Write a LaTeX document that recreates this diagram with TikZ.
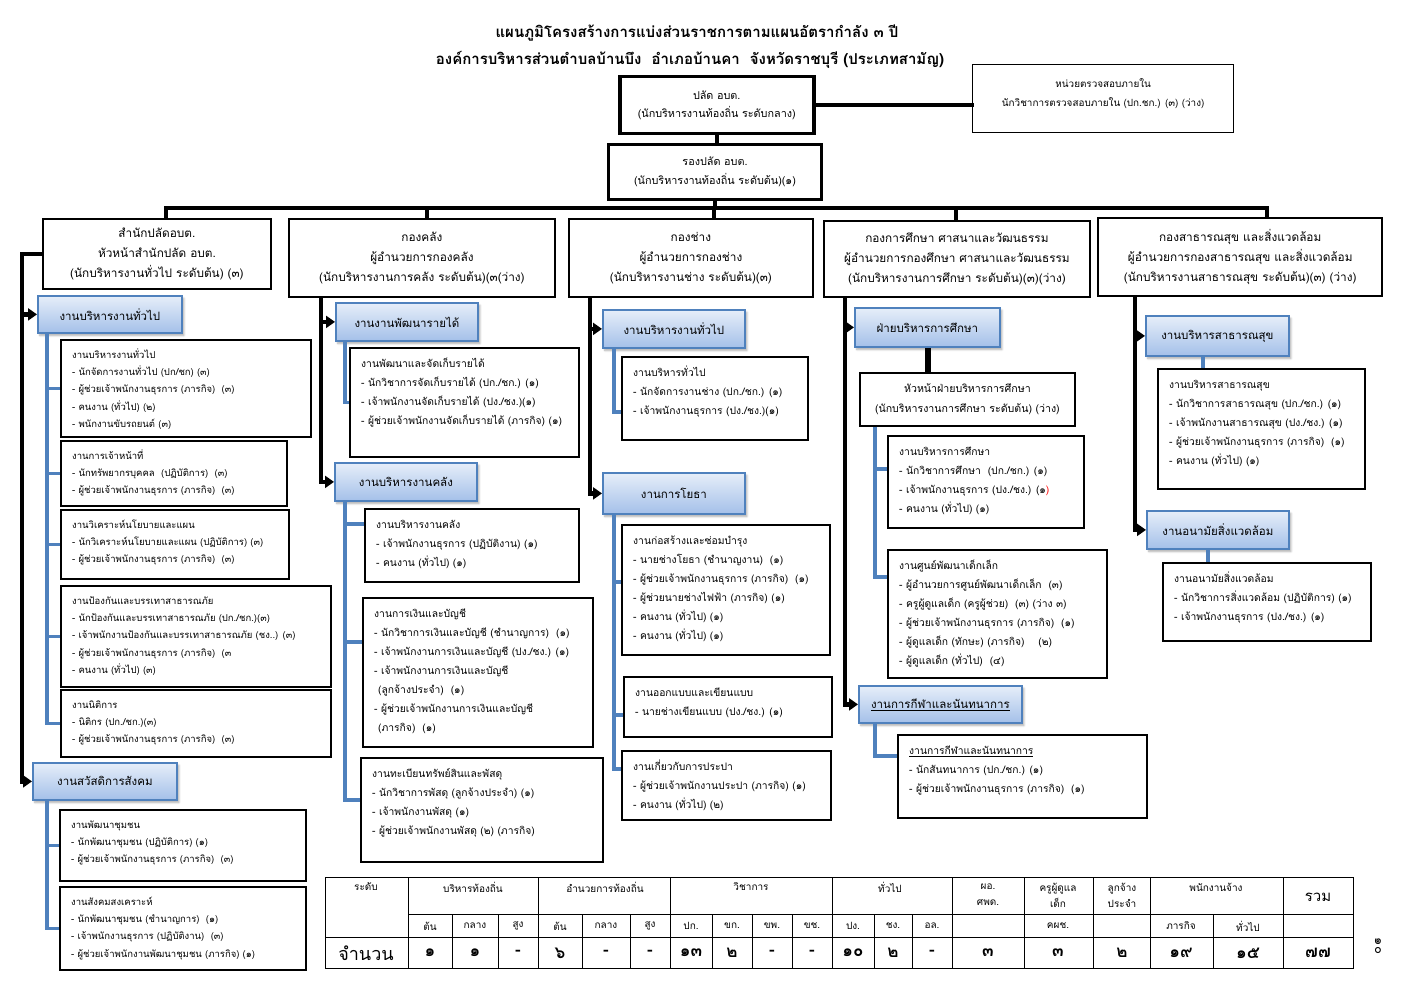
\documentclass[tikz,border=0pt]{standalone}
\usepackage{fontspec}
\setmainfont{Loma}[Script=Thai]
\usetikzlibrary{arrows.meta,shadows.blur}
\definecolor{bluline}{HTML}{4F81BD}
\definecolor{bltop}{HTML}{E6EEF9}
\definecolor{blbot}{HTML}{A4C0E9}
\tikzset{
  blk/.style={line width=4.5pt, line cap=rect},
  blkarr/.style={line width=4.5pt, -{Triangle[length=9pt,width=12pt]}},
  blu/.style={line width=3.5pt, draw=bluline},
  dbox/.style={draw, line width=1.8pt, align=center, inner sep=0pt, anchor=north west, font=\fontsize{11.8}{20}\selectfont},
  tbox/.style={dbox, font=\fontsize{10.8}{18.5}\selectfont},
  sbox/.style={draw, line width=1.8pt, inner sep=0pt, anchor=north west},
  stext/.style={anchor=north west, align=left, inner sep=0pt, font=\fontsize{10.3}{19}\selectfont},
  stextA/.style={stext, font=\fontsize{9.5}{17.3}\selectfont},
  bbox/.style={draw=bluline, line width=1.8pt, top color=bltop, bottom color=blbot, anchor=north west, inner sep=0pt, font=\fontsize{11.5}{13}\selectfont, blur shadow={shadow xshift=2pt, shadow yshift=-2.5pt, shadow blur steps=6, shadow opacity=35}},
  tline/.style={line width=0.8pt},
  tcell/.style={inner sep=0pt, font=\fontsize{10}{16}\selectfont, align=center},
  tnum/.style={inner sep=0pt, font=\bfseries\fontsize{17}{18}\selectfont},
}
\newcommand\dbx[7][]{\node[dbox,minimum width={#5-#3},minimum height={#6-#4},#1] (#2) at (#3,#4) {#7};}
\newcommand\bbx[7][]{\node[bbox,minimum width={#5-#3},minimum height={#6-#4},#1] (#2) at (#3,#4) {#7};}
\newcommand\sbx[7][stext]{\node[sbox,minimum width={#5-#3},minimum height={#6-#4}] (#2) at (#3,#4) {};
  \node[#1] (#2t) at ([shift={(12pt,-7pt)}]#2.north west) {\strut #7};}
\begin{document}
\begin{tikzpicture}[x=1pt,y=-1pt]
\useasboundingbox (0,0) rectangle (1403,992);
% title
\node[font=\bfseries\fontsize{15}{16}\selectfont] (title1) at (697,33) {แผนภูมิโครงสร้างการแบ่งส่วนราชการตามแผนอัตรากำลัง ๓ ปี};
\node[font=\bfseries\fontsize{15}{16}\selectfont] (title2) at (690,60) {องค์การบริหารส่วนตำบลบ้านบึง\ \ อำเภอบ้านคา\ \ จังหวัดราชบุรี (ประเภทสามัญ)};
% top
\dbx[tbox,line width=3.5pt]{palad}{618}{75}{812}{132}{ปลัด อบต.\\(นักบริหารงานท้องถิ่น ระดับกลาง)}
\dbx[tbox,line width=1.3pt,font=\fontsize{9.9}{19}\selectfont]{audit}{972}{64}{1233}{132}{หน่วยตรวจสอบภายใน\\นักวิชาการตรวจสอบภายใน (ปก.ชก.) (๓) (ว่าง)\\[-6pt]\mbox{}}
\dbx[tbox,line width=3pt]{rong}{607}{143}{820}{198}{รองปลัด อบต.\\(นักบริหารงานท้องถิ่น ระดับต้น)(๑)}
% departments
\dbx{sp}{42}{218}{270}{288}{สำนักปลัดอบต.\\หัวหน้าสำนักปลัด อบต.\\(นักบริหารงานทั่วไป ระดับต้น) (๓)}
\dbx{klang}{288}{218}{554}{296}{กองคลัง\\ผู้อำนวยการกองคลัง\\(นักบริหารงานการคลัง ระดับต้น)(๓(ว่าง)}
\dbx{chang}{568}{218}{812}{296}{กองช่าง\\ผู้อำนวยการกองช่าง\\(นักบริหารงานช่าง ระดับต้น)(๓)}
\dbx{suksa}{823}{220}{1089}{296}{กองการศึกษา ศาสนาและวัฒนธรรม\\ผู้อำนวยการกองศึกษา ศาสนาและวัฒนธรรม\\(นักบริหารงานการศึกษา ระดับต้น)(๓)(ว่าง)}
\dbx[line width=2.4pt]{health}{1097}{217}{1381}{295}{กองสาธารณสุข และสิ่งแวดล้อม\\ผู้อำนวยการกองสาธารณสุข และสิ่งแวดล้อม\\(นักบริหารงานสาธารณสุข ระดับต้น)(๓) (ว่าง)}
% blue section boxes
\bbx{b11}{37}{295}{181}{332}{งานบริหารงานทั่วไป}
\bbx{b12}{32}{762}{176}{799}{งานสวัสดิการสังคม}
\bbx{b21}{335}{302}{477}{340}{งานงานพัฒนารายได้}
\bbx{b22}{334}{462}{476}{500}{งานบริหารงานคลัง}
\bbx{b31}{602}{309}{744}{347}{งานบริหารงานทั่วไป}
\bbx{b32}{602}{472}{744}{513}{งานการโยธา}
\bbx{b41}{854}{307}{999}{346}{ฝ่ายบริหารการศึกษา}
\bbx{b42}{858}{685}{1021}{722}{\underline{งานการกีฬาและนันทนาการ}}
\bbx{b51}{1145}{315}{1288}{355}{งานบริหารสาธารณสุข}
\bbx{b52}{1146}{510}{1288}{548}{งานอนามัยสิ่งแวดล้อม}
% column 1 boxes
\sbx[stextA]{x1}{60}{339}{310}{436}{งานบริหารงานทั่วไป\\- นักจัดการงานทั่วไป (ปก/ชก) (๓)\\- ผู้ช่วยเจ้าพนักงานธุรการ (ภารกิจ)\ \ (๓)\\- คนงาน (ทั่วไป) (๒)\\- พนักงานขับรถยนต์ (๓)}
\sbx[stextA]{x2}{60}{440}{286}{505}{งานการเจ้าหน้าที่\\- นักทรัพยากรบุคคล\ \ (ปฏิบัติการ)\ \ (๓)\\- ผู้ช่วยเจ้าพนักงานธุรการ (ภารกิจ)\ \ (๓)}
\sbx[stextA]{x3}{60}{509}{288}{578}{งานวิเคราะห์นโยบายและแผน\\- นักวิเคราะห์นโยบายและแผน (ปฏิบัติการ) (๓)\\- ผู้ช่วยเจ้าพนักงานธุรการ (ภารกิจ)\ \ (๓)}
\sbx[stextA]{x4}{60}{585}{330}{686}{งานป้องกันและบรรเทาสาธารณภัย\\- นักป้องกันและบรรเทาสาธารณภัย (ปก./ชก.)(๓)\\- เจ้าพนักงานป้องกันและบรรเทาสาธารณภัย (ชง..) (๓)\\- ผู้ช่วยเจ้าพนักงานธุรการ (ภารกิจ)\ \ (๓\\- คนงาน (ทั่วไป) (๓)}
\sbx[stextA]{x5}{60}{689}{330}{756}{งานนิติการ\\- นิติกร (ปก./ชก.)(๓)\\- ผู้ช่วยเจ้าพนักงานธุรการ (ภารกิจ)\ \ (๓)}
\sbx[stextA]{x6}{59}{809}{305}{880}{งานพัฒนาชุมชน\\- นักพัฒนาชุมชน (ปฏิบัติการ) (๑)\\- ผู้ช่วยเจ้าพนักงานธุรการ (ภารกิจ)\ \ (๓)}
\sbx[stextA]{x7}{59}{886}{305}{969}{งานสังคมสงเคราะห์\\- นักพัฒนาชุมชน (ชำนาญการ)\ \ (๑)\\- เจ้าพนักงานธุรการ (ปฏิบัติงาน)\ \ (๓)\\- ผู้ช่วยเจ้าพนักงานพัฒนาชุมชน (ภารกิจ) (๑)}
% column 2 boxes
\sbx{k1}{349}{347}{578}{456}{งานพัฒนาและจัดเก็บรายได้\\- นักวิชาการจัดเก็บรายได้ (ปก./ชก.) (๑)\\- เจ้าพนักงานจัดเก็บรายได้ (ปง./ชง.)(๑)\\- ผู้ช่วยเจ้าพนักงานจัดเก็บรายได้ (ภารกิจ) (๑)}
\sbx{k2}{364}{508}{578}{581}{งานบริหารงานคลัง\\- เจ้าพนักงานธุรการ (ปฏิบัติงาน) (๑)\\- คนงาน (ทั่วไป) (๑)}
\sbx{k3}{362}{597}{592}{746}{งานการเงินและบัญชี\\- นักวิชาการเงินและบัญชี (ชำนาญการ)\ \ (๑)\\- เจ้าพนักงานการเงินและบัญชี (ปง./ชง.) (๑)\\- เจ้าพนักงานการเงินและบัญชี\\\hspace*{4pt}(ลูกจ้างประจำ)\ \ (๑)\\- ผู้ช่วยเจ้าพนักงานการเงินและบัญชี\\\hspace*{4pt}(ภารกิจ)\ \ (๑)}
\sbx{k4}{360}{757}{602}{861}{งานทะเบียนทรัพย์สินและพัสดุ\\- นักวิชาการพัสดุ (ลูกจ้างประจำ) (๑)\\- เจ้าพนักงานพัสดุ (๑)\\- ผู้ช่วยเจ้าพนักงานพัสดุ (๒) (ภารกิจ)}
% column 3 boxes
\sbx{c1}{621}{356}{807}{439}{งานบริหารทั่วไป\\- นักจัดการงานช่าง (ปก./ชก.) (๑)\\- เจ้าพนักงานธุรการ (ปง./ชง.)(๑)}
\sbx{c2}{621}{524}{829}{654}{งานก่อสร้างและซ่อมบำรุง\\- นายช่างโยธา (ชำนาญงาน)\ \ (๑)\\- ผู้ช่วยเจ้าพนักงานธุรการ (ภารกิจ)\ \ (๑)\\- ผู้ช่วยนายช่างไฟฟ้า (ภารกิจ) (๑)\\- คนงาน (ทั่วไป) (๑)\\- คนงาน (ทั่วไป) (๑)}
\sbx{c3}{623}{676}{831}{736}{งานออกแบบและเขียนแบบ\\- นายช่างเขียนแบบ (ปง./ชง.) (๑)}
\sbx{c4}{621}{750}{830}{819}{งานเกี่ยวกับการประปา\\- ผู้ช่วยเจ้าพนักงานประปา (ภารกิจ) (๑)\\- คนงาน (ทั่วไป) (๒)}
% column 4 boxes
\dbx[font=\fontsize{10.6}{19.5}\selectfont]{head}{859}{372}{1074}{425}{หัวหน้าฝ่ายบริหารการศึกษา\\(นักบริหารงานการศึกษา ระดับต้น) (ว่าง)}
\sbx{e1}{887}{435}{1083}{527}{งานบริหารการศึกษา\\- นักวิชาการศึกษา\ \ (ปก./ชก.) (๑)\\- เจ้าพนักงานธุรการ (ปง./ชง.) (๑{\color{red})}\\- คนงาน (ทั่วไป) (๑)}
\sbx{e2}{887}{549}{1106}{677}{งานศูนย์พัฒนาเด็กเล็ก\\- ผู้อำนวยการศูนย์พัฒนาเด็กเล็ก\ \ (๓)\\- ครูผู้ดูแลเด็ก (ครูผู้ช่วย)\ \ (๓) (ว่าง ๓)\\- ผู้ช่วยเจ้าพนักงานธุรการ (ภารกิจ)\ \ (๑)\\- ผู้ดูแลเด็ก (ทักษะ) (ภารกิจ)\ \ \ \ (๒)\\- ผู้ดูแลเด็ก (ทั่วไป)\ \ (๔)}
\sbx{e3}{897}{734}{1146}{817}{\underline{งานการกีฬาและนันทนาการ}\\- นักสันทนาการ (ปก./ชก.) (๑)\\- ผู้ช่วยเจ้าพนักงานธุรการ (ภารกิจ)\ \ (๑)}
% column 5 boxes
\sbx{h1}{1157}{368}{1364}{488}{งานบริหารสาธารณสุข\\- นักวิชาการสาธารณสุข (ปก./ชก.) (๑)\\- เจ้าพนักงานสาธารณสุข (ปง./ชง.) (๑)\\- ผู้ช่วยเจ้าพนักงานธุรการ (ภารกิจ)\ \ (๑)\\- คนงาน (ทั่วไป) (๑)}
\sbx{h2}{1162}{562}{1370}{640}{งานอนามัยสิ่งแวดล้อม\\- นักวิชาการสิ่งแวดล้อม (ปฏิบัติการ) (๑)\\- เจ้าพนักงานธุรการ (ปง./ชง.) (๑)}
% coordinates
\coordinate (d1) at (166,208); \coordinate (d2) at (427,208); \coordinate (d3) at (714,208);
\coordinate (d4) at (956,208); \coordinate (d5) at (1267,208);
\coordinate (s1) at (22,0); \coordinate (s2) at (321,0); \coordinate (s3) at (590,0);
\coordinate (s4) at (845,0); \coordinate (s5) at (1135,0); \coordinate (hx) at (928,0);
\coordinate (l1) at (47,0); \coordinate (l2) at (345,0); \coordinate (l3) at (614,0);
\coordinate (l4) at (875,0); \coordinate (l5) at (1203,0); \coordinate (l5b) at (1208,0);
% top connectors
\draw[blk] (palad.east) -- (palad.east -| audit.west);
\draw[blk] (palad.south) -- (palad.south |- rong.north);
\draw[blk] (rong.south) -- (rong.south |- d1);
\draw[blk] (d1) -- (d5);
\draw[blk] (d1) -- (d1 |- sp.north);
\draw[blk] (d2) -- (d2 |- klang.north);
\draw[blk] (d3) -- (d3 |- chang.north);
\draw[blk] (d4) -- (d4 |- suksa.north);
\draw[blk] (d5) -- (d5 |- health.north);
% spines
\draw[blk] (sp.west) -| (b12.west -| s1);
\draw[blkarr] (b11.west -| s1) -- (b11.west);
\draw[blkarr] (b12.west -| s1) -- (b12.west);
\draw[blk] (klang.south -| s2) -- (b22.west -| s2);
\draw[blkarr] (b21.west -| s2) -- (b21.west);
\draw[blkarr] (b22.west -| s2) -- (b22.west);
\draw[blk] (chang.south -| s3) -- (b32.west -| s3);
\draw[blkarr] (b31.west -| s3) -- (b31.west);
\draw[blkarr] (b32.west -| s3) -- (b32.west);
\draw[blk] (suksa.south -| s4) -- (b42.west -| s4);
\draw[blkarr] (b41.west -| s4) -- (b41.west);
\draw[blkarr] (b42.west -| s4) -- (b42.west);
\draw[blk] (health.south -| s5) -- (b52.west -| s5);
\draw[blkarr] (b51.west -| s5) -- (b51.west);
\draw[blkarr] (b52.west -| s5) -- (b52.west);
\draw[line width=6pt] (b41.south -| hx) -- (head.north -| hx);
% blue connectors
\draw[blu] (b11.south -| l1) |- (x5.west);
\foreach \b in {x1,x2,x3,x4} \draw[blu] (\b.west -| l1) -- (\b.west);
\draw[blu] (b12.south -| l1) |- (x7.west);
\draw[blu] (x6.west -| l1) -- (x6.west);
\draw[blu] (b21.south -| l2) |- (k1.west);
\draw[blu] (b22.south -| l2) |- ([yshift=-43pt]k4.north west);
\draw[blu] ([yshift=-16pt]k2.north west -| l2) -- ([yshift=-16pt]k2.north west);
\draw[blu] ([yshift=-45pt]k3.north west -| l2) -- ([yshift=-45pt]k3.north west);
\draw[blu] (b31.south -| l3) |- ([yshift=-56pt]c1.north west);
\draw[blu] (b32.south -| l3) |- ([yshift=-19pt]c4.north west);
\draw[blu] ([yshift=-58pt]c2.north west -| l3) -- ([yshift=-58pt]c2.north west);
\draw[blu] ([yshift=-39pt]c3.north west -| l3) -- ([yshift=-39pt]c3.north west);
\draw[blu] (head.south -| l4) |- ([yshift=-28pt]e2.north west);
\draw[blu] ([yshift=-34pt]e1.north west -| l4) -- ([yshift=-34pt]e1.north west);
\draw[blu] (b42.south -| l4) |- ([yshift=-22pt]e3.north west);
\draw[blu] (b51.south -| l5) -- (h1.north -| l5);
\draw[blu] (b52.south -| l5b) -- (h2.north -| l5b);
% table
\draw[tline] (325,877) rectangle (1353,968);
\foreach \x in {408,538,670,832,952,1024,1093,1150,1283} \draw[tline] (\x,877) -- (\x,968);
\foreach \x in {452,498,582,630,712,752,792,874,912,1213} \draw[tline] (\x,914) -- (\x,968);
\draw[tline] (408,914) -- (1353,914);
\draw[tline] (325,937) -- (1353,937);
\node[tcell] (th0) at (366,887) {ระดับ};
\node[tcell] (th1) at (473,887) {บริหารท้องถิ่น};
\node[tcell] (th2) at (605,887) {อำนวยการท้องถิ่น};
\node[tcell] (th3) at (751,887) {วิชาการ};
\node[tcell] (th4) at (890,887) {ทั่วไป};
\node[tcell] (th5) at (988,895) {ผอ.\\ศพด.};
\node[tcell] (th6) at (1058,895) {ครูผู้ดูแล\\เด็ก};
\node[tcell] (th7) at (1122,895) {ลูกจ้าง\\ประจำ};
\node[tcell] (th8) at (1216,887) {พนักงานจ้าง};
\node[tcell, font=\fontsize{15}{16}\selectfont] (th9) at (1318,897) {รวม};
\foreach \x/\t [count=\i] in {430/ต้น,475/กลาง,518/สูง,560/ต้น,606/กลาง,650/สูง,691/ปก.,732/ขก.,772/ขพ.,812/ขช.,853/ปง.,893/ชง.,932/อล.,1058/คผช.,1181/ภารกิจ,1248/ทั่วไป}
  \node[tcell] (tr\i) at (\x,926) {\t};
\node[inner sep=0pt, font=\fontsize{18}{19}\selectfont] (tq) at (366,953) {จำนวน};
\foreach \x/\t [count=\i] in {430/๑,475/๑,518/-,560/๖,606/-,650/-,691/๑๓,732/๒,772/-,812/-,853/๑๐,893/๒,932/-,988/๓,1058/๓,1122/๒,1181/๑๙,1248/๑๕,1318/๗๗}
  \node[tnum] (tv\i) at (\x,953) {\t};
\node[rotate=-90, inner sep=0pt, font=\fontsize{13}{14}\selectfont] (page) at (1378,946) {๑๐};
\end{tikzpicture}
\end{document}
